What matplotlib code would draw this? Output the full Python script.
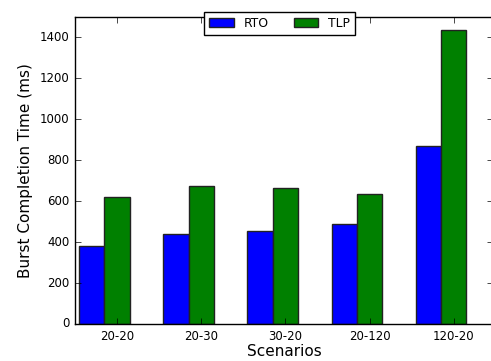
import numpy as np
import matplotlib
matplotlib.use('Agg')
import matplotlib.pyplot as plt

scenarios = ['20-20', '20-30', '30-20', '20-120', '120-20']
rto = [382, 441, 452, 491, 872]
tlp = [622, 674, 665, 637, 1435]

plt.style.use('classic')
plt.rcParams['figure.facecolor'] = 'white'
plt.rcParams['savefig.facecolor'] = 'white'

fig = plt.figure(figsize=(4.91, 3.61), dpi=100)
ax = fig.add_axes([0.1527, 0.1025, 0.851, 0.8504])

ind = np.arange(len(scenarios))
width = 0.3

ax.bar(ind, rto, width, color='blue', edgecolor='#222222', label='RTO', align='center')
ax.bar(ind + width, tlp, width, color='green', edgecolor='#222222', label='TLP', align='center')

ax.set_xticks(ind + width)
ax.set_xticklabels(scenarios)
ax.set_xlim(-0.2, 4.765)
ax.set_ylim(0, 1500)
ax.set_yticks(range(0, 1401, 200))
ax.spines['right'].set_visible(False)

ax.tick_params(labelsize=8.5)
ax.set_xlabel('Scenarios', fontsize=11, labelpad=1)
ax.set_ylabel('Burst Completion Time (ms)', fontsize=11)

ax.legend(loc='upper center', bbox_to_anchor=(0.49, 1.036), ncol=2, fontsize=8.9)

fig.savefig('out.png', dpi=100)
